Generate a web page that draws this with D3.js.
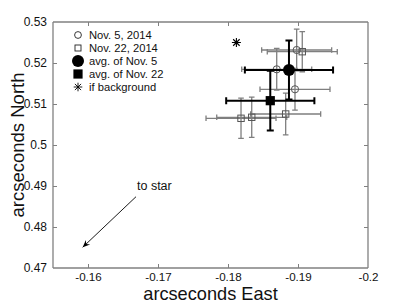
<!DOCTYPE html>
<html><head><meta charset="utf-8">
<script src="https://cdn.jsdelivr.net/npm/d3@7"></script>
<style>body{margin:0;background:#fff}svg{display:block;font-family:"Liberation Sans",Arial,sans-serif}</style>
</head><body><svg id="c" width="407" height="305"></svg>
<script>
const nov5East = [-0.18696, -0.18981, -0.18957];
const nov5North = [0.51846, 0.52317, 0.51359];
const nov5ErrEast = [0.005, 0.005, 0.005];
const nov5ErrNorth = [0.0051, 0.0051, 0.0051];
const nov22East = [-0.19061, -0.18824, -0.18339, -0.18186];
const nov22North = [0.52276, 0.50756, 0.50676, 0.50651];
const nov22ErrEast = [0.005, 0.005, 0.005, 0.005];
const nov22ErrNorth = [0.0049, 0.0051, 0.0049, 0.0049];
const avgNames = ["avg. of Nov. 5", "avg. of Nov. 22"];
const avgEast = [-0.18871, -0.18604];
const avgNorth = [0.51829, 0.51081];
const avgErrEast = [0.0063, 0.0063];
const avgErrNorth = [0.0072, 0.0073];
const bgEast = [-0.1812];
const bgNorth = [0.525];
const arrowFrom = [-0.16686, 0.48739];
const arrowTo = [-0.15924, 0.47505];
const xTicks = [-0.16, -0.17, -0.18, -0.19, -0.2];
const xTickLabels = ["-0.16", "-0.17", "-0.18", "-0.19", "-0.2"];
const yTicks = [0.47, 0.48, 0.49, 0.5, 0.51, 0.52, 0.53];
const yTickLabels = ["0.47", "0.48", "0.49", "0.5", "0.51", "0.52", "0.53"];
const legendLabels = ["Nov. 5, 2014", "Nov. 22, 2014", "avg. of Nov. 5", "avg. of Nov. 22", "if background"];

const svg = d3.select("#c");
const L = 53, R = 368, T = 22, B = 268;
const x = d3.scaleLinear().domain([-0.155, -0.2]).range([L, R]);
const y = d3.scaleLinear().domain([0.47, 0.53]).range([B, T]);
const frameCol = "#808080";

// axes
const fmtX = d => xTickLabels[xTicks.indexOf(d)];
const fmtY = d => yTickLabels[yTicks.indexOf(d)];
const gB = svg.append("g").attr("transform", `translate(0,${B})`)
  .call(d3.axisBottom(x).tickValues(xTicks).tickFormat(fmtX).tickSize(-4).tickPadding(4.5));
const gT = svg.append("g").attr("transform", `translate(0,${T})`)
  .call(d3.axisTop(x).tickValues(xTicks).tickFormat("").tickSize(-4));
const gL = svg.append("g").attr("transform", `translate(${L},0)`)
  .call(d3.axisLeft(y).tickValues(yTicks).tickFormat(fmtY).tickSize(-4).tickPadding(6));
const gR = svg.append("g").attr("transform", `translate(${R},0)`)
  .call(d3.axisRight(y).tickValues(yTicks).tickFormat("").tickSize(-4));
[gB, gT, gL, gR].forEach(g => {
  g.select(".domain").attr("stroke", frameCol).attr("stroke-width", 1.3);
  g.selectAll(".tick line").attr("stroke", frameCol);
  g.selectAll("text").attr("font-size", 12).attr("fill", "#111").attr("font-family", "Liberation Sans, Arial, sans-serif");
});
gB.selectAll("text").attr("font-size", 11.6);
gB.select(".domain").attr("d", `M${L},0H${R}`);
gT.select(".domain").attr("d", `M${L},0H${R}`);
gL.select(".domain").attr("d", `M0,${T}V${B}`);
gR.select(".domain").attr("d", `M0,${T}V${B}`);
gB.selectAll(".tick").filter(d => d === -0.2).select("line").remove();
gT.selectAll(".tick").filter(d => d === -0.2).select("line").remove();
gL.selectAll(".tick").filter(d => d === 0.47 || d === 0.53).select("line").remove();
gR.selectAll(".tick").filter(d => d === 0.47 || d === 0.53).select("line").remove();

// titles
svg.append("text").attr("x", (L + R) / 2).attr("y", 300).attr("text-anchor", "middle")
  .attr("font-size", 18.2).attr("fill", "#111").text("arcseconds East");
svg.append("text").attr("transform", `translate(24,${(T + B) / 2}) rotate(-90)`).attr("text-anchor", "middle")
  .attr("font-size", 18.5).attr("fill", "#111").text("arcseconds North");

// error bars
function errbar(g, ex, ny, ee, en, col, sw, cap) {
  const cx = x(ex), cy = y(ny);
  const x0 = x(ex + ee), x1 = x(ex - ee), y0 = y(ny + en), y1 = y(ny - en);
  const p = `M${x0},${cy}H${x1}M${x0},${cy - cap}V${cy + cap}M${x1},${cy - cap}V${cy + cap}` +
            `M${cx},${y0}V${y1}M${cx - cap},${y0}H${cx + cap}M${cx - cap},${y1}H${cx + cap}`;
  g.append("path").attr("d", p).attr("fill", "none").attr("stroke", col).attr("stroke-width", sw);
}
const plot = svg.append("g");
nov5East.forEach((e, i) => errbar(plot, e, nov5North[i], nov5ErrEast[i], nov5ErrNorth[i], "#7f7f7f", 1.3, 2.8));
nov22East.forEach((e, i) => errbar(plot, e, nov22North[i], nov22ErrEast[i], nov22ErrNorth[i], "#7f7f7f", 1.3, 2.8));
nov5East.forEach((e, i) => plot.append("circle").attr("cx", x(e)).attr("cy", y(nov5North[i])).attr("r", 3.6)
  .attr("fill", "none").attr("stroke", "#555").attr("stroke-width", 1));
nov22East.forEach((e, i) => plot.append("rect").attr("x", x(e) - 3.2).attr("y", y(nov22North[i]) - 3.2)
  .attr("width", 6.4).attr("height", 6.4).attr("fill", "none").attr("stroke", "#555").attr("stroke-width", 1));
avgEast.forEach((e, i) => errbar(plot, e, avgNorth[i], avgErrEast[i], avgErrNorth[i], "#000", 2, 3.5));
plot.append("circle").attr("cx", x(avgEast[0])).attr("cy", y(avgNorth[0])).attr("r", 6).attr("fill", "#000");
plot.append("rect").attr("x", x(avgEast[1]) - 4.6).attr("y", y(avgNorth[1]) - 4.6).attr("width", 9.2).attr("height", 9.2).attr("fill", "#000");

function star(g, cx, cy, s, sw) {
  const d = s * 0.72;
  g.append("path").attr("d", `M${cx - s},${cy}H${cx + s}M${cx},${cy - s}V${cy + s}M${cx - d},${cy - d}L${cx + d},${cy + d}M${cx - d},${cy + d}L${cx + d},${cy - d}`)
    .attr("stroke", "#000").attr("stroke-width", sw).attr("fill", "none");
}
bgEast.forEach((e, i) => star(plot, x(e), y(bgNorth[i]), 4.5, 1.1));

// arrow
const ax0 = x(arrowFrom[0]), ay0 = y(arrowFrom[1]), ax1 = x(arrowTo[0]), ay1 = y(arrowTo[1]);
svg.append("line").attr("x1", ax0).attr("y1", ay0).attr("x2", ax1).attr("y2", ay1).attr("stroke", "#000").attr("stroke-width", 0.9);
const ang = Math.atan2(ay1 - ay0, ax1 - ax0), hl = 8, hw = 0.4;
const pA = [ax1 - hl * Math.cos(ang - hw), ay1 - hl * Math.sin(ang - hw)];
const pB = [ax1 - hl * Math.cos(ang + hw), ay1 - hl * Math.sin(ang + hw)];
const pM = [ax1 - hl * 0.6 * Math.cos(ang), ay1 - hl * 0.6 * Math.sin(ang)];
svg.append("path").attr("d", `M${ax1},${ay1}L${pA[0]},${pA[1]}L${pM[0]},${pM[1]}L${pB[0]},${pB[1]}Z`).attr("fill", "#000");
svg.append("text").attr("x", 137).attr("y", 190).attr("font-size", 12.5).attr("fill", "#111").text("to star");

// legend
const lg = svg.append("g");
const lx = 78, ly0 = 35, dy = 13;
legendLabels.forEach((t, i) => {
  lg.append("text").attr("x", 89).attr("y", ly0 + i * dy).attr("dy", "0.36em").attr("font-size", 11.2).attr("fill", "#111").text(t);
});
lg.append("circle").attr("cx", lx).attr("cy", ly0).attr("r", 3.4).attr("fill", "none").attr("stroke", "#222").attr("stroke-width", 0.9);
lg.append("rect").attr("x", lx - 3).attr("y", ly0 + dy - 3).attr("width", 6).attr("height", 6).attr("fill", "none").attr("stroke", "#222").attr("stroke-width", 0.9);
lg.append("circle").attr("cx", lx).attr("cy", ly0 + 2 * dy).attr("r", 6).attr("fill", "#000");
lg.append("rect").attr("x", lx - 4.6).attr("y", ly0 + 3 * dy - 4.6).attr("width", 9.2).attr("height", 9.2).attr("fill", "#000");
star(lg, lx, ly0 + 4 * dy, 4.3, 0.9);
</script></body></html>
